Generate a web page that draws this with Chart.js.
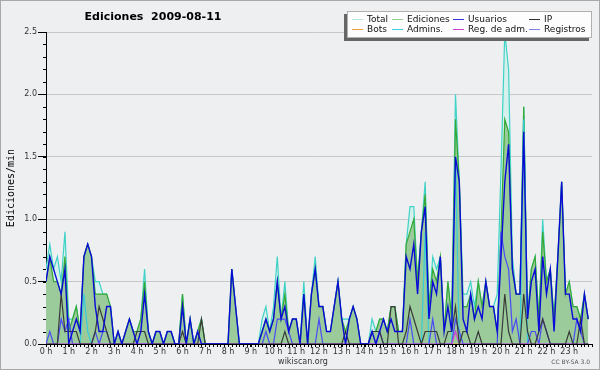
<!DOCTYPE html>
<html>
<head>
<meta charset="utf-8">
<script src="https://cdn.jsdelivr.net/npm/chart.js@4.4.0/dist/chart.umd.min.js"></script>
<style>
  body { margin: 0; background: #eeeff1; }
  canvas { display: block; }
</style>
</head>
<body>
<canvas id="edits-chart" width="600" height="370"></canvas>
<script>
// one value per 10 minutes, 144 slots for the day
const hourLabels = [
  "0 h", "1 h", "2 h", "3 h", "4 h", "5 h", "6 h", "7 h", "8 h", "9 h", "10 h", "11 h",
  "12 h", "13 h", "14 h", "15 h", "16 h", "17 h", "18 h", "19 h", "20 h", "21 h", "22 h", "23 h",
];
const seriesNames = ["Total", "Ediciones", "Usuarios", "IP", "Bots", "Admins.", "Reg. de adm.", "Registros"];

const total = [
  0.6, 0.8, 0.6, 0.7, 0.5, 0.9, 0.2, 0.2, 0.3, 0.1, 0.7, 0.8,
  0.7, 0.5, 0.5, 0.4, 0.4, 0.3, 0, 0.1, 0, 0.1, 0.2, 0.1,
  0.1, 0.2, 0.6, 0.1, 0, 0.1, 0.1, 0, 0.1, 0.1, 0, 0,
  0.4, 0, 0.2, 0, 0.1, 0.2, 0, 0, 0, 0, 0, 0,
  0, 0.6, 0.3, 0, 0, 0, 0, 0, 0, 0.2, 0.3, 0.1,
  0.3, 0.7, 0.2, 0.5, 0.1, 0.2, 0.2, 0, 0.5, 0, 0.4, 0.7,
  0.3, 0.3, 0.1, 0.1, 0.3, 0.5, 0.2, 0.2, 0.2, 0.3, 0.2, 0,
  0, 0, 0.2, 0.1, 0.2, 0.2, 0.1, 0.3, 0.3, 0.1, 0.1, 0.8,
  1.1, 1.1, 0.5, 0.9, 1.3, 0.3, 0.7, 0.6, 0.7, 0.1, 0.5, 0.2,
  2.0, 1.3, 0.4, 0.4, 0.5, 0.3, 0.5, 0.3, 0.5, 0.3, 0.3, 0.4,
  1.4, 2.5, 2.2, 0.7, 0.4, 0.4, 1.9, 0.2, 0.6, 0.7, 0.2, 1.0,
  0.5, 0.6, 0.2, 0.7, 1.3, 0.4, 0.5, 0.3, 0.3, 0.2, 0.4, 0.2,
];
const edits = [
  0.5, 0.7, 0.5, 0.5, 0.4, 0.7, 0.1, 0.2, 0.3, 0.1, 0.7, 0.8,
  0.7, 0.4, 0.4, 0.4, 0.4, 0.3, 0, 0.1, 0, 0.1, 0.2, 0.1,
  0.1, 0.2, 0.5, 0.1, 0, 0.1, 0.1, 0, 0.1, 0.1, 0, 0,
  0.4, 0, 0.2, 0, 0.1, 0.2, 0, 0, 0, 0, 0, 0,
  0, 0.6, 0.3, 0, 0, 0, 0, 0, 0, 0.1, 0.2, 0.1,
  0.2, 0.5, 0.2, 0.4, 0.1, 0.2, 0.2, 0, 0.4, 0, 0.4, 0.6,
  0.3, 0.3, 0.1, 0.1, 0.3, 0.5, 0.2, 0.1, 0.2, 0.3, 0.2, 0,
  0, 0, 0.1, 0.1, 0.2, 0.2, 0.1, 0.3, 0.3, 0.1, 0.1, 0.8,
  0.9, 1.0, 0.5, 0.9, 1.2, 0.3, 0.6, 0.5, 0.7, 0.1, 0.5, 0.2,
  1.8, 1.3, 0.3, 0.3, 0.4, 0.2, 0.5, 0.3, 0.5, 0.3, 0.3, 0.1,
  0.9, 1.8, 1.7, 0.6, 0.4, 0.4, 1.9, 0.2, 0.6, 0.7, 0.2, 0.9,
  0.5, 0.6, 0.2, 0.7, 1.3, 0.4, 0.5, 0.3, 0.3, 0.2, 0.4, 0.2,
];
const users = [
  0.5, 0.7, 0.6, 0.5, 0.4, 0.6, 0, 0.1, 0.2, 0.1, 0.7, 0.8,
  0.7, 0.3, 0.1, 0.1, 0.3, 0.3, 0, 0.1, 0, 0.1, 0.2, 0.1,
  0, 0.1, 0.4, 0.1, 0, 0.1, 0.1, 0, 0.1, 0.1, 0, 0,
  0.3, 0, 0.2, 0, 0.1, 0, 0, 0, 0, 0, 0, 0,
  0, 0.6, 0.3, 0, 0, 0, 0, 0, 0, 0.1, 0.2, 0.1,
  0.2, 0.5, 0.2, 0.3, 0.1, 0.2, 0.2, 0, 0.4, 0, 0.4, 0.6,
  0.3, 0.3, 0.1, 0.1, 0.3, 0.5, 0.2, 0, 0.2, 0.3, 0.2, 0,
  0, 0, 0.1, 0, 0.1, 0.2, 0.1, 0.2, 0.1, 0.1, 0.1, 0.7,
  0.6, 0.8, 0.4, 0.9, 1.1, 0.2, 0.5, 0.4, 0.7, 0.1, 0.3, 0.1,
  1.5, 1.3, 0.2, 0.1, 0.4, 0.2, 0.3, 0.2, 0.5, 0.3, 0.3, 0.1,
  0.7, 1.3, 1.6, 0.6, 0.4, 0.4, 1.7, 0.2, 0.5, 0.6, 0.1, 0.7,
  0.4, 0.6, 0.1, 0.7, 1.3, 0.4, 0.4, 0.2, 0.2, 0.1, 0.4, 0.2,
];
const ip = [
  0, 0, 0, 0, 0.4, 0.1, 0.1, 0.1, 0.1, 0, 0, 0,
  0, 0.1, 0.3, 0.2, 0.1, 0, 0, 0, 0, 0, 0, 0,
  0.1, 0.1, 0.1, 0, 0, 0, 0, 0, 0, 0, 0, 0,
  0.1, 0, 0, 0, 0, 0.2, 0, 0, 0, 0, 0, 0,
  0, 0, 0, 0, 0, 0, 0, 0, 0, 0, 0, 0,
  0, 0, 0, 0.1, 0, 0, 0, 0, 0, 0, 0, 0,
  0, 0, 0, 0, 0, 0, 0, 0.1, 0, 0, 0, 0,
  0, 0, 0.1, 0.1, 0.1, 0, 0, 0.3, 0.3, 0, 0, 0.1,
  0.3, 0.2, 0.1, 0, 0.1, 0.1, 0.1, 0.1, 0, 0, 0.1, 0.1,
  0.3, 0, 0.1, 0.1, 0, 0, 0.1, 0, 0, 0, 0, 0,
  0, 0.4, 0.1, 0, 0, 0, 0.4, 0.1, 0, 0, 0.1, 0.2,
  0.1, 0, 0, 0, 0, 0, 0.1, 0, 0, 0.2, 0, 0,
];
const registros = [
  0, 0.1, 0, 0, 0.2, 0.1, 0.2, 0, 0, 0, 0, 0,
  0, 0.1, 0, 0.1, 0.1, 0, 0, 0, 0, 0, 0, 0,
  0, 0, 0, 0, 0, 0, 0, 0, 0, 0, 0, 0,
  0, 0, 0, 0, 0, 0, 0, 0, 0, 0, 0, 0,
  0, 0, 0, 0, 0, 0, 0, 0, 0, 0, 0.1, 0,
  0, 0.2, 0.2, 0.2, 0.1, 0, 0, 0, 0, 0, 0, 0,
  0.2, 0, 0, 0, 0, 0, 0, 0, 0, 0, 0, 0,
  0, 0, 0, 0, 0.1, 0, 0, 0, 0, 0, 0, 0,
  0.2, 0, 0, 0, 0, 0, 0.2, 0, 0, 0, 0, 0,
  0.2, 0.1, 0, 0, 0, 0, 0, 0, 0, 0, 0, 0,
  0.9, 0.7, 0.6, 0.1, 0.2, 0, 0, 0, 0.1, 0.1, 0, 0.2,
  0.1, 0, 0, 0, 0, 0, 0, 0, 0.2, 0.1, 0, 0,
];
const admins = [
  0, 0, 0, 0, 0, 0, 0, 0, 0, 0, 0.4, 0.1,
  0, 0, 0, 0, 0, 0, 0, 0, 0, 0, 0, 0,
  0, 0, 0, 0, 0, 0, 0, 0, 0, 0, 0, 0,
  0, 0, 0, 0, 0, 0, 0, 0, 0, 0, 0, 0,
  0, 0, 0, 0, 0, 0, 0, 0, 0, 0, 0, 0,
  0, 0, 0, 0, 0, 0, 0, 0, 0, 0, 0, 0,
  0, 0, 0, 0, 0, 0, 0, 0, 0, 0, 0, 0,
  0, 0, 0, 0, 0, 0, 0, 0, 0, 0, 0, 0,
  0, 0, 0, 0, 0.9, 0, 0, 0, 0, 0, 0, 0,
  1.5, 0, 0, 0, 0, 0, 0, 0, 0, 0, 0, 0,
  0, 0, 0, 0, 0, 0, 1.8, 0, 0, 0, 0, 0,
  0, 0, 0, 0, 0, 0, 0, 0, 0, 0, 0, 0,
];
const regAdm = [
  0, 0, 0, 0, 0, 0, 0, 0, 0, 0, 0, 0,
  0, 0, 0, 0, 0, 0, 0, 0, 0, 0, 0, 0,
  0, 0, 0, 0, 0, 0, 0, 0, 0, 0, 0, 0,
  0, 0, 0, 0, 0, 0, 0, 0, 0, 0, 0, 0,
  0, 0, 0, 0, 0, 0, 0, 0, 0, 0, 0, 0,
  0, 0, 0, 0, 0, 0, 0, 0, 0, 0, 0, 0,
  0, 0, 0, 0, 0, 0, 0, 0, 0, 0, 0, 0,
  0, 0, 0, 0, 0, 0, 0, 0, 0, 0, 0, 0,
  0, 0, 0, 0, 0, 0, 0, 0, 0, 0, 0, 0,
  0.1, 0, 0, 0, 0, 0, 0, 0, 0, 0, 0, 0,
  0, 0, 0, 0, 0, 0, 0, 0, 0, 0, 0, 0,
  0, 0, 0, 0, 0, 0, 0, 0, 0, 0, 0, 0,
];

const legendColors = ["#b4e6e4", "#8fd08f", "#3434e0", "#303030", "#f0a040", "#40d0e0", "#d040d0", "#8080f0"];

const toPoints = (arr) => arr.map((v, i) => ({ x: i, y: v }));

function line(label, arr, color, order, extra) {
  return Object.assign({
    label: label,
    data: toPoints(arr),
    borderColor: color,
    borderWidth: 1.2,
    pointRadius: 0,
    tension: 0,
    fill: false,
    order: order,
  }, extra || {});
}

// background, minor ticks, title, footer and legend box
const decor = {
  id: "decor",
  beforeDraw(chart) {
    const ctx = chart.ctx;
    ctx.save();
    ctx.fillStyle = "#eeeff1";
    ctx.fillRect(0, 0, chart.width, chart.height);
    ctx.strokeStyle = "#a8a8a8";
    ctx.strokeRect(0.5, 0.5, chart.width - 1, chart.height - 1);
    ctx.restore();
  },
  afterDraw(chart) {
    const { ctx, chartArea, scales } = chart;
    ctx.save();
    ctx.strokeStyle = "#000";
    ctx.lineWidth = 1;
    ctx.beginPath();
    for (let i = 0; i <= total.length; i++) {
      const px = Math.round(scales.x.getPixelForValue(i)) + 0.5;
      ctx.moveTo(px, chartArea.bottom);
      ctx.lineTo(px, chartArea.bottom + 3);
    }
    for (let k = 0; k <= 25; k++) {
      const py = Math.round(scales.y.getPixelForValue(k / 10)) + 0.5;
      ctx.moveTo(chartArea.left - 3, py);
      ctx.lineTo(chartArea.left, py);
    }
    ctx.stroke();

    ctx.fillStyle = "#000";
    ctx.font = 'bold 11px "DejaVu Sans"';
    ctx.textAlign = "center";
    ctx.textBaseline = "middle";
    ctx.fillText("Ediciones  2009-08-11", 153, 17);

    ctx.font = '8px "DejaVu Sans"';
    ctx.fillStyle = "#333";
    ctx.fillText("wikiscan.org", 303, 362);
    ctx.font = '6px "DejaVu Sans"';
    ctx.textAlign = "right";
    ctx.fillStyle = "#555";
    ctx.fillText("CC BY-SA 3.0", 590, 362);

    // legend
    const bx = 347, by = 11, bw = 245, bh = 27;
    ctx.fillStyle = "#666";
    ctx.fillRect(bx - 3, by + 3, bw, bh);
    ctx.fillStyle = "#fdfdfd";
    ctx.fillRect(bx, by, bw, bh);
    ctx.strokeStyle = "#b0b0b0";
    ctx.strokeRect(bx + 0.5, by + 0.5, bw - 1, bh - 1);
    const cols = [5, 45, 106, 182];
    ctx.font = '9px "DejaVu Sans"';
    ctx.textAlign = "left";
    seriesNames.forEach((name, n) => {
      const cx = bx + cols[n % 4];
      const cy = by + 8 + Math.floor(n / 4) * 10;
      ctx.strokeStyle = legendColors[n];
      ctx.beginPath();
      ctx.moveTo(cx, cy + 0.5);
      ctx.lineTo(cx + 11, cy + 0.5);
      ctx.stroke();
      ctx.fillStyle = "#111";
      ctx.fillText(name, cx + 15, cy + 1);
    });
    ctx.restore();
  },
};

const config = {
  type: "line",
  data: {
    datasets: [
      line(seriesNames[0], total, "#3fd2c6", 10, { fill: "origin", backgroundColor: "#d6f1ed" }),
      line(seriesNames[1], edits, "#33a833", 9, { fill: "origin", backgroundColor: "#9bcb9b" }),
      line(seriesNames[5], admins, "#38cdd8", 6),
      line(seriesNames[4], new Array(total.length).fill(0), "#f0a040", 7),
      line(seriesNames[7], registros, "#4b4bf5", 5),
      line(seriesNames[6], regAdm, "#d040d0", 4),
      line(seriesNames[3], ip, "#3a3a3a", 3),
      line(seriesNames[2], users, "#0a0ad8", 1, { borderWidth: 1.4 }),
    ],
  },
  options: {
    responsive: false,
    animation: false,
    events: [],
    layout: { padding: { top: 32, right: 8, bottom: 0, left: 0 } },
    plugins: {
      legend: { display: false },
      tooltip: { enabled: false },
    },
    scales: {
      x: {
        type: "linear",
        min: 0,
        max: total.length,
        afterFit(scale) { scale.height = 26; },
        border: { color: "#000" },
        grid: { drawOnChartArea: false, tickLength: 3, tickColor: "#000" },
        ticks: {
          stepSize: 6,
          autoSkip: false,
          maxRotation: 0,
          padding: 0,
          color: "#333",
          font: { family: "DejaVu Sans", size: 8 },
          callback: (v) => hourLabels[v / 6],
        },
      },
      y: {
        min: 0,
        max: 2.5,
        afterFit(scale) { scale.width = 46; },
        border: { color: "#000" },
        grid: { color: "#c8c8c8", tickColor: "#000", tickLength: 8 },
        ticks: {
          stepSize: 0.5,
          padding: 1,
          color: "#333",
          font: { family: "DejaVu Sans", size: 8 },
          callback: (v) => v.toFixed(1),
        },
        title: {
          display: true,
          text: "Ediciones/min",
          color: "#000",
          font: { family: "DejaVu Sans Mono", size: 10 },
          padding: { top: 5, bottom: 0 },
        },
      },
    },
  },
  plugins: [decor],
};

const ctx = document.getElementById("edits-chart").getContext("2d");
const editsChart = new Chart(ctx, config);
</script>
</body>
</html>
